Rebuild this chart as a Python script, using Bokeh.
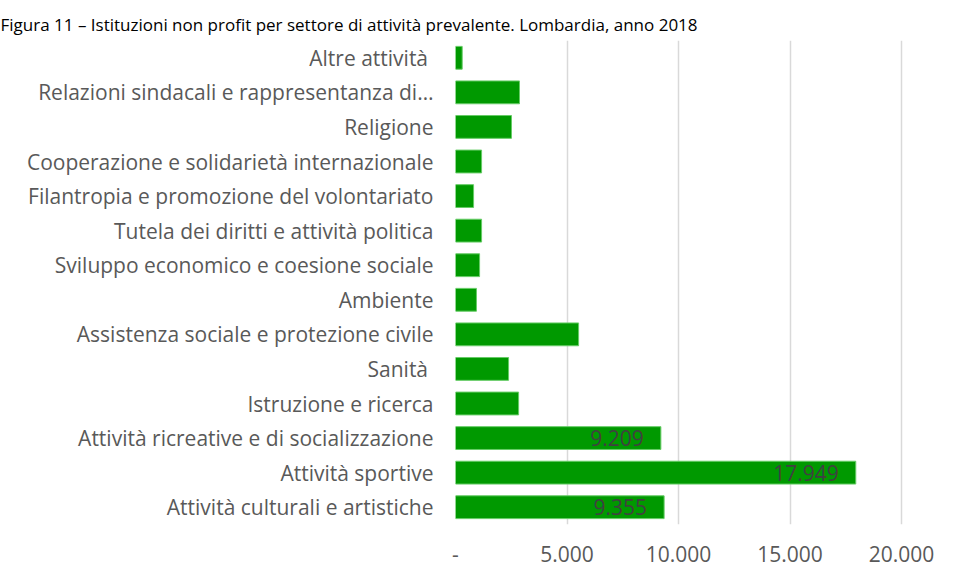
from bokeh.plotting import figure
from bokeh.models import ColumnDataSource, LabelSet, FixedTicker
from bokeh.core.properties import value
from bokeh.embed import file_html
from bokeh.resources import INLINE

title_text = "Figura 11 \u2013 Istituzioni non profit per settore di attivit\u00e0 prevalente. Lombardia, anno 2018"

categories = [
    "Attivit\u00e0 culturali e artistiche",
    "Attivit\u00e0 sportive",
    "Attivit\u00e0 ricreative e di socializzazione",
    "Istruzione e ricerca",
    "Sanit\u00e0 ",
    "Assistenza sociale e protezione civile",
    "Ambiente",
    "Sviluppo economico e coesione sociale",
    "Tutela dei diritti e attivit\u00e0 politica",
    "Filantropia e promozione del volontariato",
    "Cooperazione e solidariet\u00e0 internazionale",
    "Religione",
    "Relazioni sindacali e rappresentanza di\u2026",
    "Altre attivit\u00e0 ",
]
values = [9355, 17949, 9209, 2830, 2380, 5520, 940, 1080, 1170, 810, 1170, 2510, 2870, 300]
value_labels = ["9.355", "17.949", "9.209"] + [""] * 11
x_ticks = [0, 5000, 10000, 15000, 20000]
x_tick_labels = ["-", "5.000", "10.000", "15.000", "20.000"]

FONT = "Open Sans"
TXT = "#595959"
FS = "21px"

src = ColumnDataSource(dict(cat=categories, val=values, lab=value_labels))

p = figure(width=956, height=578, x_range=(0, 22466), y_range=categories,
           output_backend="svg", toolbar_location=None,
           min_border_left=455, min_border_right=0, min_border_top=40, min_border_bottom=54)
p.outline_line_color = None
p.background_fill_color = "white"
p.border_fill_color = "white"

p.title.text = title_text
p.title.align = "left"
p.title.offset = -455
p.title.text_font = FONT
p.title.text_font_size = "17px"
p.title.text_font_style = "normal"
p.title.text_color = "#000000"

p.hbar(y="cat", right="val", left=0, height=0.66, source=src,
       fill_color="#009900", line_color="#66cc66", line_width=1)

p.add_layout(LabelSet(x="val", y="cat", text="lab", source=src, x_offset=-17,
                      text_align="right", text_baseline="middle",
                      text_font=value(FONT), text_font_size=value(FS), text_color="#404040"))

p.xaxis.ticker = FixedTicker(ticks=x_ticks)
p.xaxis.major_label_overrides = {t: l for t, l in zip(x_ticks, x_tick_labels)}
p.xaxis.axis_line_color = None
p.xaxis.major_tick_line_color = None
p.xaxis.minor_tick_line_color = None
p.xaxis.major_tick_out = 0
p.xaxis.major_label_standoff = 21
p.xaxis.major_label_text_font = FONT
p.xaxis.major_label_text_font_size = FS
p.xaxis.major_label_text_color = TXT

p.yaxis.axis_line_color = None
p.yaxis.major_tick_line_color = None
p.yaxis.major_tick_out = 0
p.yaxis.major_label_standoff = 22
p.yaxis.major_label_text_font = FONT
p.yaxis.major_label_text_font_size = FS
p.yaxis.major_label_text_color = TXT

p.xgrid.grid_line_color = "#d9d9d9"
p.xgrid.grid_line_width = 1.5
p.ygrid.grid_line_color = None

open("out.html", "w").write(file_html(p, INLINE))
